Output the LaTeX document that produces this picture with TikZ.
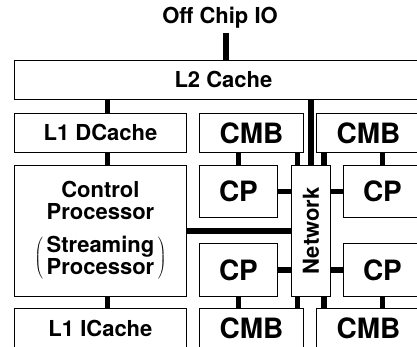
\documentclass[tikz,border=0pt]{standalone}
\usepackage{fontspec}
\setmainfont{TeX Gyre Heros}

\begin{document}
\begin{tikzpicture}[x=1pt, y=-1pt,
  unit/.style={draw, line width=0.9pt, inner sep=0pt, align=center, anchor=north west,
    font=\bfseries\fontsize{22}{21}\selectfont},
  core/.style={unit, font=\bfseries\fontsize{28}{28}\selectfont},
  bus/.style={line width=5.5pt}
]
\useasboundingbox (0,0) rectangle (417,347);
\clip (0,0) rectangle (417,347);

\node[font=\bfseries\fontsize{22}{21}\selectfont, inner sep=4pt] (io) at (220,18) {Off Chip IO};
\node[unit, minimum width=418pt, minimum height=39pt] (l2) at (14,60) {L2 Cache};

% control processor column
\node[unit, minimum width=172pt, minimum height=39pt] (l1d) at (14,113) {L1 DCache};
\node[unit, minimum width=172pt, minimum height=131pt] (ctrl) at (14,165)
  {\begin{tabular}{@{}c@{}}Control\\Processor\end{tabular}\\[9pt]
   $\left(\,\begin{tabular}{@{}c@{}}Streaming\\Processor\end{tabular}\,\right)$};
\node[unit, minimum width=172pt, minimum height=40pt] (l1i) at (14,308) {L1 ICache};

% co-processor tiles
\node[core, minimum width=104pt, minimum height=39pt] (cmbA) at (199,113) {CMB};
\node[core, minimum width=78pt, minimum height=52pt] (cpA) at (199,165) {CP};
\node[core, minimum width=78pt, minimum height=53pt] (cpB) at (199,243) {CP};
\node[core, minimum width=104pt, minimum height=40pt] (cmbB) at (199,308) {CMB};
\node[core, minimum width=104pt, minimum height=39pt] (cmbC) at (316,113) {CMB};
\node[core, minimum width=78pt, minimum height=52pt] (cpC) at (343,165) {CP};
\node[core, minimum width=78pt, minimum height=53pt] (cpD) at (343,243) {CP};
\node[core, minimum width=104pt, minimum height=40pt] (cmbD) at (316,308) {CMB};
\node[unit, minimum width=39pt, minimum height=131pt] (net) at (291,165) {\rotatebox{90}{Network}};

\draw[bus] ([xshift=6pt]io.south) -- ([xshift=6pt]io.south |- l2.north);
\draw[bus] ([xshift=7pt]l1d.north) -- ([xshift=7pt]l1d.north |- l2.south);
\draw[bus] ([xshift=7pt]l1d.south) -- ([xshift=7pt]l1d.south |- ctrl.north);
\draw[bus] ([xshift=7pt]ctrl.south) -- ([xshift=7pt]ctrl.south |- l1i.north);
\draw[bus] (net.north) -- (net.north |- l2.south);
\draw[bus] (ctrl.east) -- (ctrl.east -| net.west);

\draw[bus] (cpA.north) -- (cpA.north |- cmbA.south);
\draw[bus] (cpB.south) -- (cpB.south |- cmbB.north);
\draw[bus] (cpC.north) -- (cpC.north |- cmbC.south);
\draw[bus] (cpD.south) -- (cpD.south |- cmbD.north);

\draw[bus] (cpA.east) -- (cpA.east -| net.west);
\draw[bus] (cpB.east) -- (cpB.east -| net.west);
\draw[bus] (cpC.west) -- (cpC.west -| net.east);
\draw[bus] (cpD.west) -- (cpD.west -| net.east);

\draw[bus] ([xshift=-13.5pt]net.north) -- ([xshift=-13.5pt]net.north |- cmbA.south);
\draw[bus] ([xshift=13pt]net.north) -- ([xshift=13pt]net.north |- cmbC.south);
\draw[bus] ([xshift=-13.5pt]net.south) -- ([xshift=-13.5pt]net.south |- cmbB.north);
\draw[bus] ([xshift=13pt]net.south) -- ([xshift=13pt]net.south |- cmbD.north);
\end{tikzpicture}
\end{document}
